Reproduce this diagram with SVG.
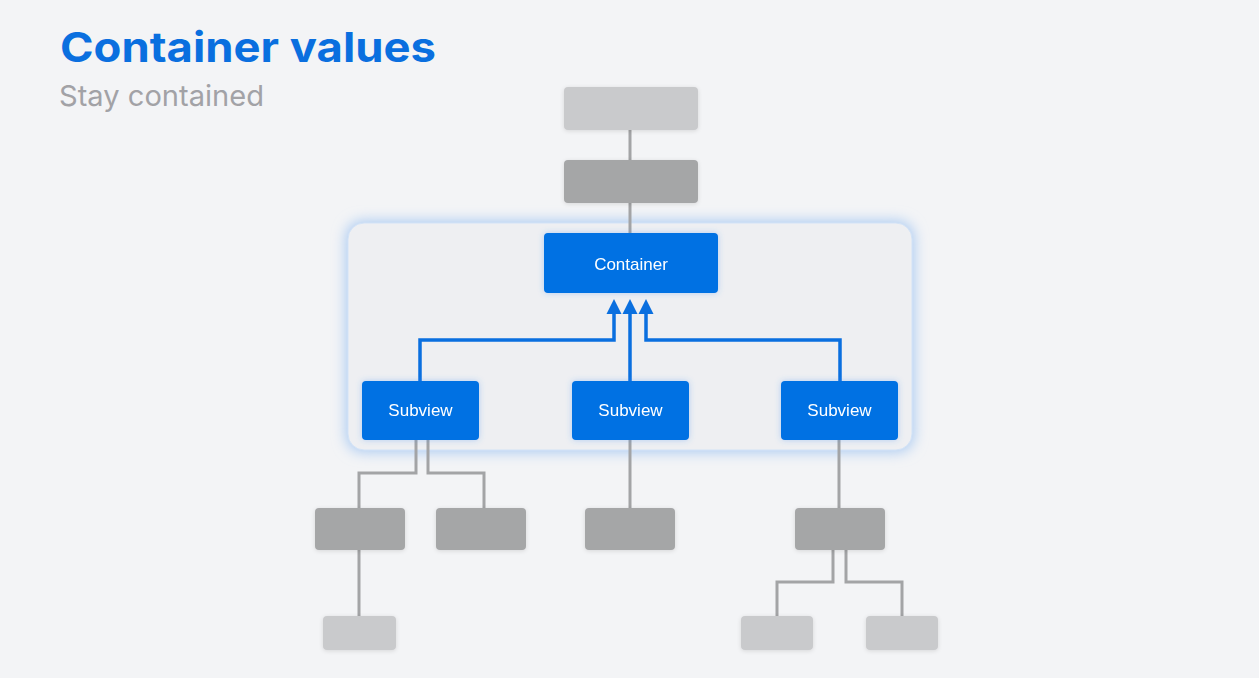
<svg xmlns="http://www.w3.org/2000/svg" width="1259" height="678" viewBox="0 0 1259 678">
  <style>
    .title { font-family: "Inter", "Liberation Sans", sans-serif; font-weight: 700; font-size: 41px; fill: #0a6fdf; }
    .subtitle { font-family: "Inter", "Liberation Sans", sans-serif; font-weight: 400; font-size: 29px; fill: #a2a2a6; }
    .lbl { font-family: "Liberation Sans", "Inter", sans-serif; font-size: 17px; fill: #ffffff; text-anchor: middle; }
    .blue { fill: #0071e3; }
    .dark { fill: #a5a6a7; }
    .light { fill: #c9cacc; }
    .gray { fill: none; stroke: #a3a4a6; stroke-width: 3; }
    .bl { fill: none; stroke: #0a6fdf; stroke-width: 3.5; marker-end: url(#arr); }
  </style>
  <defs>
    <marker id="arr" markerUnits="userSpaceOnUse" markerWidth="16" markerHeight="16" refX="0" refY="7.5" orient="auto" viewBox="0 0 16 15">
      <path d="M0,0 L15,7.5 L0,15 z" fill="#0a6fdf"/>
    </marker>
    <filter id="glow" x="-20%" y="-30%" width="140%" height="160%">
      <feGaussianBlur stdDeviation="7"/>
    </filter>
    <filter id="shadow" x="-20%" y="-20%" width="140%" height="150%">
      <feDropShadow dx="0" dy="1" stdDeviation="2" flood-color="#000" flood-opacity="0.12"/>
    </filter>
    <filter id="bglow" x="-20%" y="-30%" width="140%" height="160%">
      <feDropShadow dx="0" dy="0" stdDeviation="3" flood-color="#3a8cf0" flood-opacity="0.35"/>
    </filter>
  </defs>
  <rect width="1259" height="678" fill="#f3f4f6"/>

  <g id="title">
    <text class="title" x="60" y="62" textLength="376" lengthAdjust="spacingAndGlyphs">Container values</text>
    <text class="subtitle" x="59" y="106" textLength="205" lengthAdjust="spacingAndGlyphs">Stay contained</text>
  </g>

  <g id="panel">
    <rect x="346" y="221" width="568" height="231" rx="17" fill="#a8c9f2" filter="url(#glow)"/>
    <rect x="348" y="223" width="564" height="227" rx="16" fill="#eeeff2" stroke="#d3e3f7" stroke-width="1"/>
  </g>

  <g id="connectors">
    <path class="gray" d="M630,130 V160"/>
    <path class="gray" d="M630,203 V233"/>
    <path class="gray" d="M416,440 V473 H359 V508"/>
    <path class="gray" d="M428,440 V473 H484 V508"/>
    <path class="gray" d="M630,440 V508"/>
    <path class="gray" d="M839,440 V508"/>
    <path class="gray" d="M359,550 V616"/>
    <path class="gray" d="M833,550 V582 H777 V616"/>
    <path class="gray" d="M846,550 V582 H902 V616"/>
    <path class="bl" d="M420,381 V340 H614 V314"/>
    <path class="bl" d="M630,381 V314"/>
    <path class="bl" d="M840,381 V340 H646 V314"/>
  </g>

  <g id="top1"><rect class="light" x="564" y="87" width="134" height="43" rx="4" filter="url(#shadow)"/></g>
  <g id="top2"><rect class="dark" x="564" y="160" width="134" height="43" rx="4" filter="url(#shadow)"/></g>

  <g id="container" filter="url(#bglow)">
    <rect class="blue" x="544" y="233" width="174" height="60" rx="4"/>
    <text class="lbl" x="631" y="270">Container</text>
  </g>
  <g id="subview1" filter="url(#bglow)">
    <rect class="blue" x="362" y="381" width="117" height="59" rx="4"/>
    <text class="lbl" x="420.5" y="416">Subview</text>
  </g>
  <g id="subview2" filter="url(#bglow)">
    <rect class="blue" x="572" y="381" width="117" height="59" rx="4"/>
    <text class="lbl" x="630.5" y="416">Subview</text>
  </g>
  <g id="subview3" filter="url(#bglow)">
    <rect class="blue" x="781" y="381" width="117" height="59" rx="4"/>
    <text class="lbl" x="839.5" y="416">Subview</text>
  </g>

  <g id="childA"><rect class="dark" x="315" y="508" width="90" height="42" rx="4" filter="url(#shadow)"/></g>
  <g id="childB"><rect class="dark" x="436" y="508" width="90" height="42" rx="4" filter="url(#shadow)"/></g>
  <g id="childC"><rect class="dark" x="585" y="508" width="90" height="42" rx="4" filter="url(#shadow)"/></g>
  <g id="childD"><rect class="dark" x="795" y="508" width="90" height="42" rx="4" filter="url(#shadow)"/></g>
  <g id="leafA"><rect class="light" x="323" y="616" width="73" height="34" rx="4" filter="url(#shadow)"/></g>
  <g id="leafE"><rect class="light" x="741" y="616" width="72" height="34" rx="4" filter="url(#shadow)"/></g>
  <g id="leafF"><rect class="light" x="866" y="616" width="72" height="34" rx="4" filter="url(#shadow)"/></g>
</svg>
